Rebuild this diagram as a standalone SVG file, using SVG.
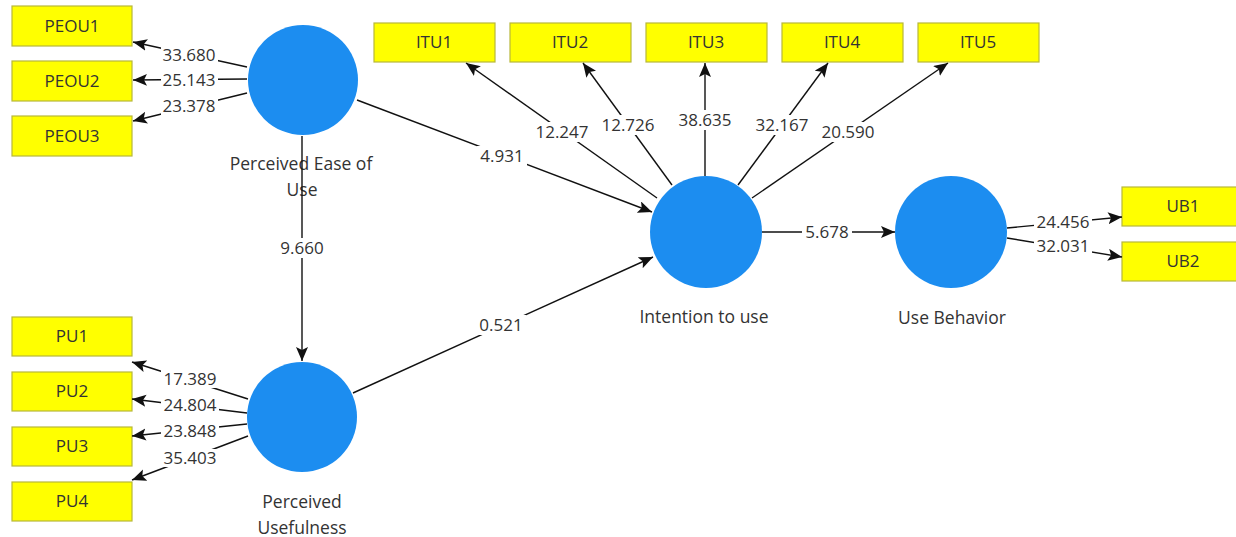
<svg xmlns="http://www.w3.org/2000/svg" width="1236" height="537" viewBox="0 0 1236 537">
<style>
text{font-family:"Open Sans","Noto Sans","Liberation Sans",sans-serif;font-size:17px;fill:#333;text-anchor:middle}
text.nl{font-size:17.5px}
.box{fill:#FFFF00;stroke:#B8B83A;stroke-width:1.2}
.lv{fill:#1C8DF0}
.ln{stroke:#111;stroke-width:1.4;fill:none;marker-end:url(#ah)}
.bg{fill:#fff}
</style>
<defs>
<marker id="ah" markerUnits="userSpaceOnUse" markerWidth="15" markerHeight="13" refX="14" refY="6" orient="auto">
<path d="M0,0 L14,6 L0,12 L3,6 Z" fill="#111"/>
</marker>
</defs>
<rect width="1236" height="537" fill="#fff"/>

<g id="PEOU1"><rect class="box" x="12" y="6" width="120" height="40"/><text x="72" y="32">PEOU1</text></g>
<g id="PEOU2"><rect class="box" x="12" y="61" width="120" height="40"/><text x="72" y="87">PEOU2</text></g>
<g id="PEOU3"><rect class="box" x="12" y="116" width="120" height="40"/><text x="72" y="142">PEOU3</text></g>

<g id="PU1"><rect class="box" x="12" y="317" width="120" height="39"/><text x="72" y="342">PU1</text></g>
<g id="PU2"><rect class="box" x="12" y="372" width="120" height="39"/><text x="72" y="397">PU2</text></g>
<g id="PU3"><rect class="box" x="12" y="427" width="120" height="39"/><text x="72" y="452">PU3</text></g>
<g id="PU4"><rect class="box" x="12" y="482" width="120" height="39"/><text x="72" y="507">PU4</text></g>

<g id="ITU1"><rect class="box" x="374" y="23" width="121" height="39"/><text x="434" y="48">ITU1</text></g>
<g id="ITU2"><rect class="box" x="510" y="23" width="121" height="39"/><text x="570" y="48">ITU2</text></g>
<g id="ITU3"><rect class="box" x="646" y="23" width="121" height="39"/><text x="706" y="48">ITU3</text></g>
<g id="ITU4"><rect class="box" x="782" y="23" width="121" height="39"/><text x="842" y="48">ITU4</text></g>
<g id="ITU5"><rect class="box" x="918" y="23" width="121" height="39"/><text x="978" y="48">ITU5</text></g>

<g id="UB1"><rect class="box" x="1122" y="187" width="120" height="39"/><text x="1183" y="212">UB1</text></g>
<g id="UB2"><rect class="box" x="1122" y="242" width="120" height="39"/><text x="1183" y="267">UB2</text></g>

<g id="PEOU"><circle class="lv" cx="303" cy="80" r="55"/><text class="nl" x="301" y="170">Perceived Ease of</text><text class="nl" x="302" y="196">Use</text></g>
<g id="PU"><circle class="lv" cx="302" cy="417" r="55"/><text class="nl" x="302" y="508">Perceived</text><text class="nl" x="302" y="534">Usefulness</text></g>
<g id="ITU"><circle class="lv" cx="706" cy="232" r="56"/><text class="nl" x="704" y="323">Intention to use</text></g>
<g id="UB"><circle class="lv" cx="951" cy="232" r="56"/><text class="nl" x="952" y="324">Use Behavior</text></g>

<g id="connectors">
<line class="ln" x1="247" y1="67" x2="133" y2="42"/>
<line class="ln" x1="247" y1="79" x2="133" y2="80"/>
<line class="ln" x1="247" y1="93" x2="133" y2="121"/>
<line class="ln" x1="248" y1="399" x2="132" y2="362"/>
<line class="ln" x1="247" y1="413" x2="132" y2="399"/>
<line class="ln" x1="247" y1="424" x2="132" y2="436"/>
<line class="ln" x1="248" y1="436" x2="132" y2="480"/>
<line class="ln" x1="302" y1="136" x2="302" y2="361"/>
<line class="ln" x1="357" y1="100" x2="652" y2="212"/>
<line class="ln" x1="353" y1="393" x2="653" y2="257"/>
<line class="ln" x1="657" y1="198" x2="466" y2="63"/>
<line class="ln" x1="672" y1="185" x2="583" y2="63"/>
<line class="ln" x1="705" y1="176" x2="705" y2="63"/>
<line class="ln" x1="738" y1="185" x2="828" y2="63"/>
<line class="ln" x1="752" y1="198" x2="948" y2="63"/>
<line class="ln" x1="762" y1="232" x2="895" y2="232"/>
<line class="ln" x1="1007" y1="228" x2="1122" y2="217"/>
<line class="ln" x1="1007" y1="238" x2="1122" y2="257"/>

<rect class="bg" x="161" y="46" width="57" height="18"/><text x="189" y="61">33.680</text>
<rect class="bg" x="161" y="71" width="57" height="18"/><text x="189" y="86">25.143</text>
<rect class="bg" x="161" y="97" width="57" height="18"/><text x="189" y="112">23.378</text>
<rect class="bg" x="161" y="370" width="58" height="18"/><text x="190" y="385">17.389</text>
<rect class="bg" x="161" y="396" width="58" height="18"/><text x="190" y="411">24.804</text>
<rect class="bg" x="161" y="422" width="58" height="18"/><text x="190" y="437">23.848</text>
<rect class="bg" x="161" y="449" width="58" height="18"/><text x="190" y="464">35.403</text>
<rect class="bg" x="278" y="238" width="48" height="20"/><text x="302" y="254">9.660</text>
<rect class="bg" x="477" y="146" width="50" height="20"/><text x="502" y="162">4.931</text>
<rect class="bg" x="476" y="315" width="50" height="20"/><text x="501" y="331">0.521</text>
<rect class="bg" x="532" y="122" width="60" height="20"/><text x="562" y="138">12.247</text>
<rect class="bg" x="598" y="115" width="60" height="20"/><text x="628" y="131">12.726</text>
<rect class="bg" x="675" y="110" width="60" height="20"/><text x="705" y="126">38.635</text>
<rect class="bg" x="752" y="115" width="60" height="20"/><text x="782" y="131">32.167</text>
<rect class="bg" x="818" y="122" width="60" height="20"/><text x="848" y="138">20.590</text>
<rect class="bg" x="802" y="222" width="50" height="20"/><text x="827" y="238">5.678</text>
<rect class="bg" x="1034" y="212" width="58" height="19"/><text x="1063" y="228">24.456</text>
<rect class="bg" x="1034" y="237" width="58" height="19"/><text x="1063" y="252">32.031</text>
</g>
</svg>
